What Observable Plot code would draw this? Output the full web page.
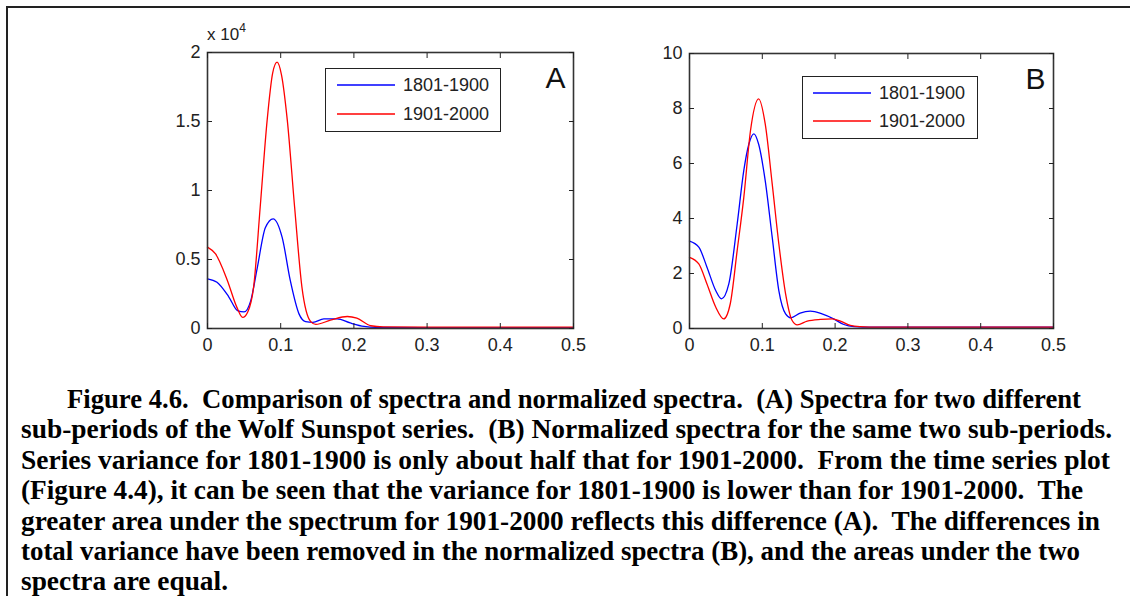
<!DOCTYPE html>
<html>
<head>
<meta charset="utf-8">
<script src="https://cdn.jsdelivr.net/npm/d3@7"></script>
<script src="https://cdn.jsdelivr.net/npm/@observablehq/plot@0.6"></script>
<style>
  html, body { margin: 0; padding: 0; background: #fff; }
  #page { position: relative; width: 1130px; height: 596px; overflow: hidden; background: #fff; }
  #frameTop { position: absolute; left: 6px; top: 6px; width: 1124px; height: 0; border-top: 2px solid #222; }
  #frameLeft { position: absolute; left: 6px; top: 6px; width: 0; height: 590px; border-left: 2px solid #222; }
  .panel { position: absolute; }
  .legend { position: absolute; border: 1.5px solid #222; background: #fff; box-sizing: border-box;
            font-family: "Liberation Sans", Arial, sans-serif; font-size: 18px; color: #222; }
  .legend .row { position: absolute; left: 0; height: 20px; display: flex; align-items: center; }
  .legend svg { display: block; }
  .legend span { margin-left: 8px; line-height: 20px; }
  .expo { position: absolute; font-family: "Liberation Sans", Arial, sans-serif; font-size: 17px; color: #222; }
  .expo sup { font-size: 12px; position: relative; top: -4px; vertical-align: top; }
  #caption { position: absolute; left: 21px; top: 384px; width: 1110px;
             font-family: "Liberation Serif", "Times New Roman", serif; font-weight: bold;
             font-size: 27px; line-height: 30.4px; color: #000; white-space: pre; }
  #caption div { height: 30.4px; }
  #caption span { display: inline-block; transform-origin: 0 50%; }
</style>
</head>
<body>
<div id="page">
  <div id="frameTop"></div>
  <div id="frameLeft"></div>
  <div id="panelA" class="panel" style="left:150px; top:20px;"></div>
  <div id="panelB" class="panel" style="left:630px; top:20px;"></div>
  <div class="expo" style="left:207px; top:25px;">x 10<sup>4</sup></div>
  <div id="legendA" class="legend" style="left:325px; top:68px; width:176px; height:64px;"></div>
  <div id="legendB" class="legend" style="left:802px; top:76px; width:176px; height:63px;"></div>
  <div id="caption"></div>
</div>
<script>
// ---- Data (frequency in cycles/year; panel A spectra in units of 10^4) ----
const seriesNames = ["1801-1900", "1901-2000"];
const seriesColors = ["#0000ff", "#ff0000"];

const xTicks = [0, 0.1, 0.2, 0.3, 0.4, 0.5];
const yTicksA = [0, 0.5, 1, 1.5, 2];
const yTicksB = [0, 2, 4, 6, 8, 10];

// Panel A: spectra
const freqA1801 = [0, 0.013, 0.029, 0.041, 0.05, 0.059, 0.068, 0.079, 0.0897, 0.102, 0.113, 0.125, 0.134, 0.144, 0.159, 0.177, 0.195, 0.214, 0.23, 0.3, 0.4, 0.5];
const specA1801 = [0.36, 0.335, 0.23, 0.13, 0.12, 0.2, 0.44, 0.73, 0.795, 0.66, 0.35, 0.106, 0.05, 0.045, 0.07, 0.07, 0.04, 0.015, 0.008, 0.007, 0.007, 0.006];
const freqA1901 = [0, 0.011, 0.027, 0.04, 0.048, 0.055, 0.063, 0.072, 0.0815, 0.089, 0.095, 0.101, 0.109, 0.119, 0.129, 0.141, 0.148, 0.168, 0.191, 0.204, 0.223, 0.24, 0.3, 0.4, 0.5];
const specA1901 = [0.59, 0.54, 0.35, 0.155, 0.08, 0.12, 0.30, 0.88, 1.51, 1.85, 1.93, 1.84, 1.51, 0.88, 0.30, 0.05, 0.03, 0.06, 0.087, 0.075, 0.02, 0.012, 0.01, 0.01, 0.01];

// Panel B: normalized spectra
const freqB1801 = [0, 0.0128, 0.024, 0.036, 0.044, 0.054, 0.0655, 0.0746, 0.0815, 0.0884, 0.095, 0.104, 0.1136, 0.1227, 0.132, 0.139, 0.152, 0.166, 0.182, 0.198, 0.212, 0.226, 0.25, 0.3, 0.4, 0.5];
const specB1801 = [3.18, 2.96, 2.23, 1.38, 1.08, 1.62, 3.8, 5.75, 6.7, 7.08, 6.7, 5.38, 3.32, 1.38, 0.53, 0.39, 0.56, 0.63, 0.53, 0.35, 0.145, 0.07, 0.05, 0.05, 0.05, 0.05];
const freqB1901 = [0, 0.0128, 0.024, 0.036, 0.047, 0.056, 0.0655, 0.0746, 0.0838, 0.095, 0.104, 0.1136, 0.1227, 0.132, 0.141, 0.148, 0.1617, 0.18, 0.196, 0.2074, 0.221, 0.234, 0.26, 0.3, 0.4, 0.5];
const specB1901 = [2.59, 2.35, 1.62, 0.78, 0.35, 0.9, 2.84, 4.77, 7.2, 8.35, 7.44, 5.26, 3.08, 1.26, 0.29, 0.13, 0.27, 0.33, 0.35, 0.27, 0.11, 0.07, 0.05, 0.05, 0.05, 0.05];

const captionLines = [
  "Figure 4.6.  Comparison of spectra and normalized spectra.  (A) Spectra for two different",
  "sub-periods of the Wolf Sunspot series.  (B) Normalized spectra for the same two sub-periods.",
  "Series variance for 1801-1900 is only about half that for 1901-2000.  From the time series plot",
  "(Figure 4.4), it can be seen that the variance for 1801-1900 is lower than for 1901-2000.  The",
  "greater area under the spectrum for 1901-2000 reflects this difference (A).  The differences in",
  "total variance have been removed in the normalized spectra (B), and the areas under the two",
  "spectra are equal."
];
// layout: rendered width (px) of each caption line in the reference
const captionWidths = [1014, 1091, 1089, 1062, 1079, 1059, 207];

// ---- Build tables ----
const toRows = (fs, vs) => fs.map((f, i) => ({f, v: vs[i]}));
const rowsA = [toRows(freqA1801, specA1801), toRows(freqA1901, specA1901)];
const rowsB = [toRows(freqB1801, specB1801), toRows(freqB1901, specB1901)];

function panel({rows, yTicks, yMax, letter, width, height, ml, mr, mt, mb}) {
  return Plot.plot({
    width, height,
    marginLeft: ml, marginRight: mr, marginTop: mt, marginBottom: mb,
    style: {fontFamily: '"Liberation Sans", Arial, sans-serif', fontSize: "18px", color: "#222", background: "transparent", overflow: "visible"},
    x: {domain: [0, 0.5]},
    y: {domain: [0, yMax]},
    marks: [
      Plot.line(rows[0], {x: "f", y: "v", stroke: seriesColors[0], strokeWidth: 1.3, curve: "monotone-x"}),
      Plot.line(rows[1], {x: "f", y: "v", stroke: seriesColors[1], strokeWidth: 1.3, curve: "monotone-x"}),
      Plot.frame({stroke: "#333", strokeWidth: 1.6}),
      Plot.axisX(xTicks, {anchor: "bottom", tickSize: -5, tickPadding: 15, tickFormat: d => String(d), label: null}),
      Plot.axisX(xTicks, {anchor: "top", tickSize: -5, tickFormat: () => "", label: null}),
      Plot.axisY(yTicks, {anchor: "left", tickSize: -5, tickPadding: 12, tickFormat: d => String(d), label: null}),
      Plot.axisY(yTicks, {anchor: "right", tickSize: -5, tickFormat: () => "", label: null}),
      Plot.text([letter], {frameAnchor: "top-right", textAnchor: "end", lineAnchor: "top", dx: -8, dy: 14, fontSize: 30, fill: "#111"})
    ]
  });
}

document.getElementById("panelA").append(panel({rows: rowsA, yTicks: yTicksA, yMax: 2, letter: "A", width: 440, height: 345, ml: 57, mr: 17, mt: 32, mb: 37}));
document.getElementById("panelB").append(panel({rows: rowsB, yTicks: yTicksB, yMax: 10, letter: "B", width: 440, height: 345, ml: 59, mr: 17, mt: 33, mb: 37}));

function legend(id, lineLeft, rowTops) {
  const el = document.getElementById(id);
  seriesNames.forEach((name, i) => {
    const row = document.createElement("div");
    row.className = "row";
    row.style.left = lineLeft + "px";
    row.style.top = rowTops[i] + "px";
    row.innerHTML = `<svg width="58" height="4"><line x1="0" x2="58" y1="2" y2="2" stroke="${seriesColors[i]}" stroke-width="1.5"/></svg><span>${name}</span>`;
    el.append(row);
  });
}
legend("legendA", 11, [6, 35]);
legend("legendB", 10, [6, 34]);

const cap = document.getElementById("caption");
captionLines.forEach((t, i) => {
  const d = document.createElement("div");
  const s = document.createElement("span");
  s.textContent = t;
  d.append(s);
  if (i === 0) d.style.paddingLeft = "46px";
  cap.append(d);
  const w = s.getBoundingClientRect().width;
  if (w > 0) s.style.transform = `scaleX(${captionWidths[i] / w})`;
});
</script>
</body>
</html>
